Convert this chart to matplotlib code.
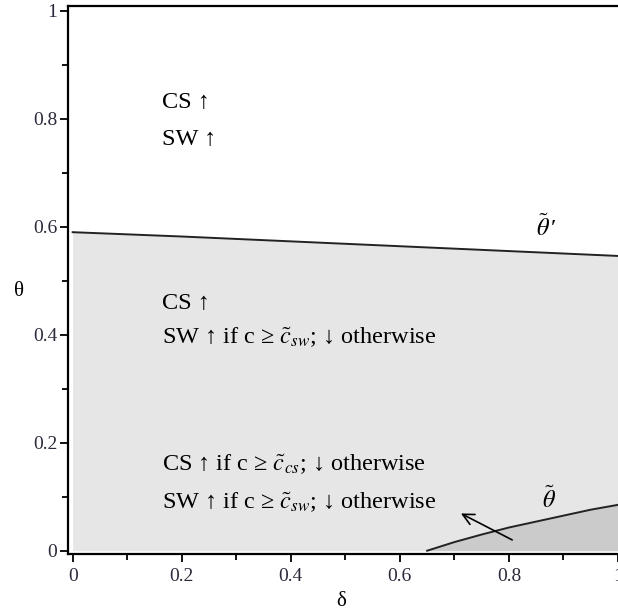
import numpy as np
import matplotlib.pyplot as plt

plt.rcParams['font.family'] = ['Liberation Serif', 'DejaVu Serif']
plt.rcParams['mathtext.fontset'] = 'stix'

# upper boundary theta~'
delta_up = [0.0, 0.2, 0.4, 0.6, 0.8, 1.0]
theta_up = [0.590, 0.582, 0.573, 0.564, 0.555, 0.546]

# lower boundary theta~
delta_lo = [0.65, 0.70, 0.75, 0.80, 0.85, 0.90, 0.95, 1.0]
theta_lo = [0.0, 0.016, 0.030, 0.043, 0.054, 0.065, 0.076, 0.085]

xticks = [0, 0.2, 0.4, 0.6, 0.8, 1]
xticklabels = ['0', '0.2', '0.4', '0.6', '0.8', '1']

fig = plt.figure(figsize=(6.18, 6.13), dpi=100)
ax = fig.add_axes([0.1105, 0.0963, 0.8895, 0.8937])

ax.fill_between(delta_up, 0, theta_up, color='#e6e6e6', lw=0)
ax.fill_between(delta_lo, 0, theta_lo, color='#cbcbcb', lw=0)
ax.plot(delta_up, theta_up, color='#222222', lw=1.4)
ax.plot(delta_lo, theta_lo, color='#222222', lw=1.4)

ax.set_xlim(-0.008, 1.0)
ax.set_ylim(-0.006, 1.0087)

ax.set_xticks(xticks)
ax.set_xticklabels(xticklabels)
ax.set_yticks(xticks)
ax.set_yticklabels(xticklabels)
ax.set_xticks(np.arange(0.1, 1, 0.2), minor=True)
ax.set_yticks(np.arange(0.1, 1, 0.2), minor=True)
ax.tick_params(which='major', length=6, width=1.3, labelsize=14,
               labelcolor='#2a2a3a')
ax.tick_params(which='minor', length=4, width=1.3)
ax.tick_params(axis='x', which='major', pad=4)
ax.tick_params(axis='y', which='major', pad=2)

for s in ['left', 'bottom', 'top']:
    ax.spines[s].set_linewidth(1.6)
ax.spines['right'].set_visible(False)

fs = 17.5
ax.text(0.163, 0.831, 'CS ↑', fontsize=fs, va='center')
ax.text(0.163, 0.762, 'SW ↑', fontsize=fs, va='center')
ax.text(0.163, 0.457, 'CS ↑', fontsize=fs, va='center')
ax.text(0.163, 0.394, r'SW ↑ if c ≥ $\tilde{c}_{sw}$; ↓ otherwise', fontsize=fs, va='center')
ax.text(0.163, 0.159, r'CS ↑ if c ≥ $\tilde{c}_{cs}$; ↓ otherwise', fontsize=fs, va='center')
ax.text(0.163, 0.088, r'SW ↑ if c ≥ $\tilde{c}_{sw}$; ↓ otherwise', fontsize=fs, va='center')

ax.text(0.868, 0.599, r"$\tilde{\theta}\,$′", fontsize=fs, ha='center', va='center')
ax.text(0.873, 0.094, r'$\tilde{\theta}$', fontsize=fs, ha='center', va='center')

ax.annotate('', xy=(0.712, 0.069), xytext=(0.806, 0.020),
            arrowprops=dict(arrowstyle='->,head_length=0.8,head_width=0.4',
                            lw=1.2, color='black', shrinkA=0, shrinkB=0))

ax.set_xlabel('δ', fontsize=15, va='center')
ax.xaxis.set_label_coords(0.497, -0.086)
ax.set_ylabel('θ', fontsize=15, rotation=0, va='center', ha='center')
ax.yaxis.set_label_coords(-0.09, 0.48)

fig.savefig('out.png', dpi=100)
